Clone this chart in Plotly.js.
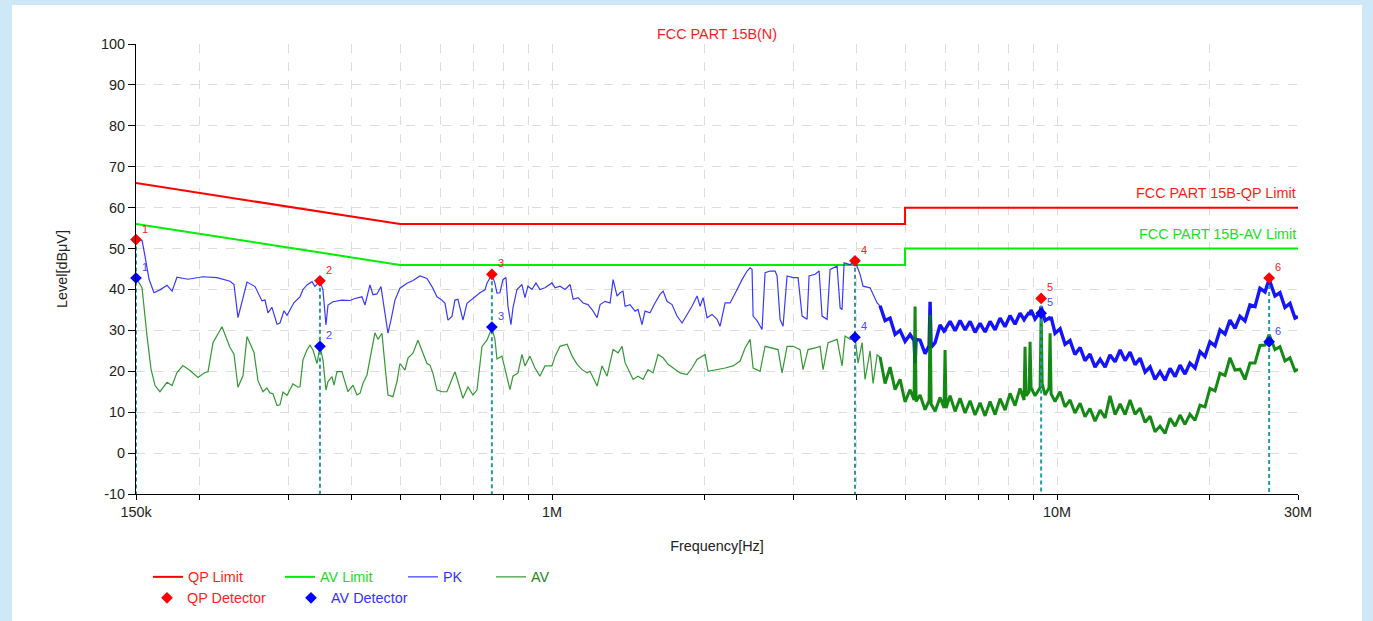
<!DOCTYPE html>
<html>
<head>
<meta charset="utf-8">
<script src="https://cdn.plot.ly/plotly-3.0.1.min.js"></script>
<style>
html,body{margin:0;padding:0;background:#cfe8f7;overflow:hidden;}
#chart{width:1373px;height:621px;}
</style>
</head>
<body>
<div id="chart"></div>
<script>
// ---------- DATA (frequencies in MHz, levels in dBuV) ----------
const limitFreq = [0.15, 0.5, 5, 5, 30];
const qpLimit = [66, 56, 56, 60, 60];
const avLimit = [56, 46, 46, 50, 50];

const pkFreqLow = [
0.1500,0.1542,0.1563,0.1592,0.1628,0.1673,0.1728,0.1768,0.1808,0.1901,
0.2036,0.2170,0.2303,0.2345,0.2388,0.2443,0.2488,0.2581,0.2664,0.2701,
0.2738,0.2788,0.2853,0.2892,0.2946,0.2986,0.3083,0.3168,0.3212,0.3271,
0.3346,0.3392,0.3471,0.3518,0.3567,0.3600,0.3683,0.3836,0.3979,0.4071,
0.4203,0.4261,0.4359,0.4419,0.4501,0.4583,0.4647,0.4732,0.4797,0.4885,
0.4998,0.5161,0.5303,0.5475,0.5653,0.5783,0.5917,0.6053,0.6137,0.6221,
0.6335,0.6422,0.6511,0.6661,0.6784,0.6972,0.7198,0.7364,0.7431,0.7602,
0.7707,0.7778,0.7884,0.7993,0.8104,0.8179,0.8291,0.8367,0.8521,0.8717,
0.8837,0.8959,0.9123,0.9291,0.9462,0.9680,0.9994,1.014,1.037,1.061,
1.086,1.101,1.126,1.152,1.178,1.200,1.228,1.245,1.273,1.303,
1.321,1.345,1.364,1.382,1.395,1.427,1.460,1.480,1.507,1.528,
1.563,1.599,1.636,1.659,1.689,1.728,1.768,1.809,1.851,1.893,
1.937,1.964,1.991,2.027,2.074,2.122,2.151,2.201,2.252,2.283,
2.325,2.378,2.433,2.467,2.489,2.501,2.547,2.605,2.641,2.702,
2.765,2.790,2.828,2.867,2.920,3.001,3.070,3.127,3.199,3.228,
3.318,3.379,3.425,3.504,3.553,3.668,3.719,3.752,3.787,3.892,
3.982,4.073,4.129,4.263,4.402,4.462];
const pkLevelLow = [
52.2,52.0,48.1,42.5,39.2,39.9,41.0,39.6,43.0,42.5,
43.1,42.9,42.0,41.2,33.1,37.6,41.8,40.7,37.2,37.4,
34.3,35.6,31.5,31.8,34.8,33.7,36.8,38.2,40.0,41.1,
41.9,40.7,42.1,39.9,31.3,36.2,37.0,37.4,37.3,37.8,
38.2,36.2,41.1,38.7,38.9,40.7,35.4,29.3,32.5,37.4,
40.3,41.5,42.2,43.3,42.7,40.7,38.2,37.4,36.6,32.5,
33.4,37.4,37.6,32.5,36.6,37.8,39.2,39.9,41.5,43.7,
41.5,39.1,39.2,42.4,42.9,35.9,31.4,35.5,40.0,41.2,
38.0,40.8,40.0,41.6,40.0,40.4,41.6,40.4,40.8,40.0,
41.2,37.6,38.0,36.7,36.3,35.1,33.1,36.3,37.1,36.7,
42.4,38.4,39.2,39.6,35.9,36.3,34.7,35.1,31.4,34.7,
34.3,36.7,38.8,39.6,37.1,36.3,33.5,31.8,33.9,35.9,
38.4,35.9,38.0,33.1,33.9,32.7,31.0,36.7,36.7,38.0,
40.0,42.4,44.5,45.3,44.9,33.5,32.3,30.2,44.1,44.5,
44.5,43.3,32.7,31.0,43.3,42.9,42.9,33.5,32.7,43.3,
43.7,44.5,33.5,32.7,44.9,45.7,35.5,35.1,46.5,46.1,
46.9,43.7,40.8,40.4,36.7,36.0];

const avFreqLow = [
0.1500,0.1542,0.1577,0.1606,0.1636,0.1673,0.1728,0.1768,0.1808,0.1858,
0.1919,0.1990,0.2055,0.2083,0.2131,0.2220,0.2303,0.2345,0.2388,0.2443,
0.2488,0.2569,0.2616,0.2676,0.2725,0.2763,0.2801,0.2853,0.2892,0.2932,
0.2986,0.3068,0.3140,0.3168,0.3212,0.3271,0.3316,0.3362,0.3424,0.3471,
0.3518,0.3567,0.3600,0.3666,0.3700,0.3750,0.3836,0.3889,0.3943,0.4034,
0.4109,0.4165,0.4223,0.4300,0.4399,0.4459,0.4521,0.4604,0.4668,0.4732,
0.4841,0.4931,0.4998,0.5114,0.5184,0.5303,0.5425,0.5525,0.5653,0.5731,
0.5809,0.5917,0.6053,0.6192,0.6335,0.6422,0.6511,0.6661,0.6815,0.6972,
0.7101,0.7264,0.7431,0.7602,0.7707,0.7778,0.7956,0.8066,0.8253,0.8367,
0.8560,0.8717,0.8837,0.9040,0.9249,0.9462,0.9680,0.9994,1.014,1.037,
1.071,1.096,1.121,1.147,1.173,1.189,1.228,1.256,1.285,1.303,
1.321,1.351,1.376,1.395,1.427,1.447,1.480,1.514,1.549,1.585,
1.621,1.659,1.697,1.736,1.793,1.851,1.893,1.937,1.982,2.009,
2.037,2.122,2.201,2.283,2.357,2.411,2.467,2.501,2.582,2.641,
2.727,2.802,2.854,2.920,3.001,3.098,3.141,3.213,3.318,3.394,
3.441,3.520,3.668,3.752,3.804,3.892,3.982,4.036,4.111,4.167,
4.263,4.322,4.402,4.462];
const avLevelLow = [
42.9,40.4,28.7,20.6,16.5,15.0,17.3,16.5,19.7,21.4,
20.2,18.5,19.7,19.9,27.0,30.9,25.8,24.2,16.1,18.9,
28.5,24.6,17.7,15.0,15.9,14.7,14.5,11.6,11.8,14.9,
14.1,16.9,16.1,16.2,22.8,25.2,26.4,25.2,21.9,26.1,
22.8,15.4,17.5,18.7,16.6,19.9,19.9,17.1,15.0,16.6,
14.2,14.6,17.1,19.1,25.2,29.4,27.8,29.3,21.5,14.2,
13.8,17.5,21.9,20.3,23.2,24.4,27.6,25.2,21.9,21.5,
19.5,15.4,15.0,15.0,18.3,19.9,17.5,13.4,16.2,14.2,
15.4,26.0,27.6,30.6,27.8,23.0,23.7,20.8,15.5,18.8,
19.6,24.1,21.3,23.7,20.8,18.8,21.3,21.3,23.7,26.1,
26.6,23.7,21.7,20.4,19.6,20.0,16.4,21.3,18.8,22.1,
25.3,24.5,26.1,22.1,19.6,18.0,18.8,18.0,20.4,19.6,
24.1,23.3,21.7,20.8,19.6,19.2,20.8,22.9,23.7,24.1,
20.0,20.4,20.8,21.3,22.5,25.7,27.8,20.8,20.0,26.1,
25.7,25.3,19.6,26.1,26.1,25.3,20.4,25.3,25.7,26.1,
20.4,27.0,27.8,21.3,28.6,27.8,28.2,22.0,27.0,18.0,
25.0,17.0,24.0,23.5];

// dense, noisy part above ~4.5 MHz (shared frequency grid for PK and AV)
const bandFreq = [
4.462,4.565,4.670,4.778,4.888,5.001,5.116,5.210,5.234,5.258,
5.355,5.478,5.580,5.605,5.631,5.734,5.866,5.974,6.001,6.028,
6.140,6.282,6.426,6.574,6.726,6.881,7.039,7.202,7.368,7.538,
7.711,7.889,8.071,8.257,8.447,8.603,8.642,8.682,8.802,8.842,
8.882,9.046,9.258,9.300,9.342,9.468,9.642,9.686,9.730,9.909,
10.14,10.37,10.61,10.85,11.11,11.36,11.62,11.89,12.17,12.45,
12.73,13.03,13.33,13.64,13.95,14.27,14.60,14.94,15.28,15.63,
15.99,16.36,16.74,17.13,17.52,17.92,18.33,18.76,19.19,19.63,
20.08,20.55,21.02,21.51,22.00,22.51,23.03,23.56,24.10,24.66,
25.22,25.81,26.30,27.01,27.63,28.27,28.92,29.59,30.00];
const pkLevelBand = [
36.0,32.4,33.0,29.0,30.0,27.3,29.0,27.5,22.0,27.8,
27.6,24.3,26.2,37.0,25.8,27.0,31.3,29.8,30.0,30.6,
32.2,29.9,32.4,30.1,32.2,29.5,31.7,29.6,32.2,30.1,
33.0,30.9,33.6,31.5,34.2,32.6,33.0,33.4,34.4,33.8,
35.0,32.8,34.4,35.8,34.8,32.4,33.0,32.6,33.3,29.3,
30.4,26.6,27.5,24.1,25.8,22.6,24.2,21.0,22.9,21.0,
24.0,22.3,25.2,22.6,24.7,21.6,23.2,19.8,21.1,18.0,
19.9,17.8,20.7,18.7,21.5,19.3,22.0,20.8,24.8,23.6,
27.2,26.2,30.1,29.1,32.5,30.5,33.4,32.3,36.2,35.8,
40.3,39.4,42.5,38.4,39.2,35.6,36.6,33.0,33.4];
const avLevelBand = [
23.5,17.0,21.0,15.5,18.0,12.5,15.5,13.0,35.8,12.6,
14.2,10.6,12.8,33.8,12.0,10.2,13.6,11.0,25.2,11.0,
14.0,10.2,13.4,9.8,12.8,9.3,12.3,9.1,12.6,9.4,
13.3,10.5,14.6,11.6,15.8,13.0,26.0,14.0,15.0,27.2,
16.0,14.0,16.0,34.2,17.0,14.2,16.0,29.3,14.5,12.6,
15.0,11.3,13.0,9.8,12.2,8.9,10.9,7.8,10.5,8.6,
14.0,9.4,12.0,9.4,13.0,9.5,11.0,7.5,9.0,5.2,
6.6,4.8,8.5,6.6,9.3,7.0,9.5,8.0,11.7,11.3,
15.8,15.2,19.5,19.0,23.3,20.3,20.5,18.0,22.0,22.0,
26.3,26.4,29.0,25.3,26.0,22.5,23.3,20.1,20.5];

// final measurement points
const markerNo = ['1','2','3','4','5','6'];
const markerFreq = [0.150, 0.347, 0.760, 3.98, 9.30, 26.3];
const qpDetector = [52.2, 42.1, 43.7, 47.0, 37.8, 42.8];
const avDetector = [42.8, 26.1, 30.8, 28.3, 34.2, 27.2];

// axis ticks
const tickVals = [0.15,0.2,0.3,0.4,0.5,0.6,0.7,0.8,0.9,1,2,3,4,5,6,7,8,9,10,20,30];
const tickText = ['150k','','','','','','','','','1M','','','','','','','','','10M','','30M'];
const yTickVals = [-10,0,10,20,30,40,50,60,70,80,90,100];
const yTickText = ['-10','0','10','20','30','40','50','60','70','80','90','100'];
const yMin = -10, yMax = 100;

// ---------- TRACES ----------
const FONT = 'Arial, "Liberation Sans", sans-serif';
const FS = 14.4;
const dropX = [], dropY = [];
markerFreq.forEach((f, i) => { dropX.push(f, f, null); dropY.push(qpDetector[i], yMin, null); });

const traces = [
  {x: limitFreq, y: qpLimit, name: 'QP Limit', mode: 'lines', line: {color: '#ff0000', width: 2}, legend: 'legend'},
  {x: limitFreq, y: avLimit, name: 'AV Limit', mode: 'lines', line: {color: '#00ee00', width: 2}, legend: 'legend2'},
  {x: pkFreqLow, y: pkLevelLow, name: 'PK', mode: 'lines', line: {color: 'rgba(0,0,255,0.78)', width: 1.2}, legend: 'legend3', legendgroup: 'pk'},
  {x: bandFreq, y: pkLevelBand, name: 'PK', mode: 'lines', line: {color: 'rgba(0,0,255,0.92)', width: 3.4}, showlegend: false, legendgroup: 'pk'},
  {x: avFreqLow, y: avLevelLow, name: 'AV', mode: 'lines', line: {color: 'rgba(0,128,0,0.8)', width: 1.2}, legend: 'legend4', legendgroup: 'av'},
  {x: bandFreq, y: avLevelBand, name: 'AV', mode: 'lines', line: {color: 'rgba(0,128,0,0.92)', width: 3.0}, showlegend: false, legendgroup: 'av'},
  {x: dropX, y: dropY, mode: 'lines', line: {color: '#2a9a9a', width: 2, dash: '4px,3px'}, showlegend: false, connectgaps: false},
  {x: markerFreq, y: qpDetector, name: 'QP Detector', mode: 'markers', marker: {symbol: 'diamond', size: 9, color: '#ff0000'}, legend: 'legend5', cliponaxis: false},
  {x: markerFreq, y: avDetector, name: 'AV Detector', mode: 'markers', marker: {symbol: 'diamond', size: 9, color: '#0000ff'}, legend: 'legend6', cliponaxis: false}
];

// ---------- LAYOUT ----------
const W = 1373, H = 621;
const PL = 136, PR = 1298, PT = 44, PB = 494;
const pw = PR - PL, ph = PB - PT;
const px2paper = p => (p - PL) / pw;
const py2paper = p => (PB - p) / ph;
function leg(xpx, ypx, color) {
  return {xref: 'container', yref: 'container', x: xpx / W, xanchor: 'left', y: 1 - ypx / H, yanchor: 'middle',
          orientation: 'h', bgcolor: 'rgba(0,0,0,0)', borderwidth: 0,
          font: {family: FONT, size: FS, color: color}};
}

// marker number labels (offset up-right of each diamond)
const numberLabels = [];
markerFreq.forEach((f, i) => {
  numberLabels.push({text: markerNo[i], xref: 'x', yref: 'y', x: Math.log10(f), y: qpDetector[i],
    xshift: 9, yshift: 11, showarrow: false, font: {family: FONT, size: 11, color: '#ff2020'}});
  numberLabels.push({text: markerNo[i], xref: 'x', yref: 'y', x: Math.log10(f), y: avDetector[i],
    xshift: 9, yshift: 11, showarrow: false, font: {family: FONT, size: 11, color: '#4a4aff'}});
});

const layout = {
  width: W, height: H,
  margin: {l: PL, r: W - PR, t: PT, b: H - PB, pad: 0, autoexpand: false},
  paper_bgcolor: '#cfe8f7',
  plot_bgcolor: '#ffffff',
  font: {family: FONT, size: FS, color: '#222222'},
  hovermode: false,
  title: {text: 'FCC PART 15B(N)', font: {family: FONT, size: FS, color: '#ff1a1a'},
          xref: 'paper', x: 0.5, xanchor: 'center', y: 1 - 34 / H, yanchor: 'middle'},
  xaxis: {
    type: 'log', range: [Math.log10(0.15), Math.log10(30)], autorange: false,
    tickmode: 'array', tickvals: tickVals, ticktext: tickText,
    ticks: 'outside', ticklen: 5, tickwidth: 1, tickcolor: '#000',
    showline: true, linecolor: '#000', linewidth: 1,
    showgrid: true, gridcolor: '#dddddd', griddash: 'dash', gridwidth: 1,
    zeroline: false, automargin: false,
    tickfont: {family: FONT, size: FS, color: '#222'},
    title: {text: 'Frequency[Hz]', standoff: 21, font: {family: FONT, size: FS, color: '#222'}}
  },
  yaxis: {
    range: [yMin, yMax], autorange: false,
    tickmode: 'array', tickvals: yTickVals, ticktext: yTickText,
    ticks: 'outside', ticklen: 7, tickwidth: 1, tickcolor: '#000',
    showline: true, linecolor: '#000', linewidth: 1,
    showgrid: true, gridcolor: '#dddddd', griddash: 'dash', gridwidth: 1,
    zeroline: false, automargin: false,
    tickfont: {family: FONT, size: FS, color: '#222'},
    title: {text: 'Level[dBμV]', standoff: 30, font: {family: FONT, size: FS, color: '#222'}}
  },
  shapes: [
    {type: 'rect', xref: 'paper', yref: 'paper', layer: 'below',
     x0: px2paper(12), x1: px2paper(1362), y0: py2paper(640), y1: py2paper(5),
     fillcolor: '#ffffff', line: {width: 0}}
  ],
  annotations: [
    {text: 'FCC PART 15B-QP Limit', xref: 'paper', x: 1, xanchor: 'right', yref: 'y', y: qpLimit[4],
     yanchor: 'bottom', yshift: 5, showarrow: false, font: {family: FONT, size: FS, color: '#ff1a1a'}},
    {text: 'FCC PART 15B-AV Limit', xref: 'paper', x: 1, xanchor: 'right', yref: 'y', y: avLimit[4],
     yanchor: 'bottom', yshift: 5, showarrow: false, font: {family: FONT, size: FS, color: '#22dd22'}}
  ].concat(numberLabels),
  legend: leg(148, 577, '#ff2222'),
  legend2: leg(280, 577, '#22dd22'),
  legend3: leg(403, 577, '#3333ff'),
  legend4: leg(491, 577, '#228822'),
  legend5: leg(147, 598, '#ff2222'),
  legend6: leg(291, 598, '#3333ff')
};

Plotly.newPlot('chart', traces, layout, {staticPlot: true, displayModeBar: false});
</script>
</body>
</html>
